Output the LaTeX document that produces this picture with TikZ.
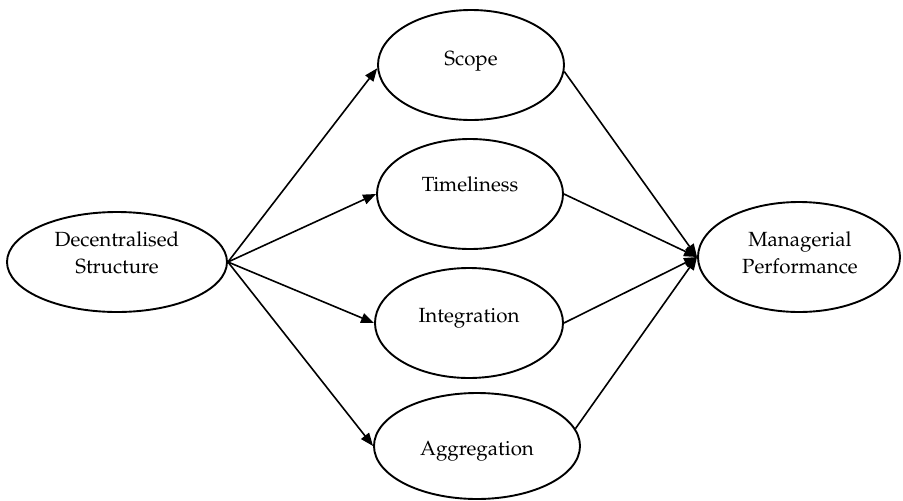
\documentclass[tikz,border=0pt]{standalone}
\usepackage[T1]{fontenc}
\usepackage{mathpazo}
\usetikzlibrary{arrows.meta,shapes.geometric}
\begin{document}
\begin{tikzpicture}[x=1pt,y=-1pt,
  oval/.style={draw=black,line width=1.9pt,ellipse,inner sep=0pt},
  lbl/.style={inner sep=0pt,font=\fontsize{20.5}{27}\selectfont,anchor=base,align=center},
  arr/.style={line width=1.6pt,-{Triangle[length=13pt,width=10pt]}}]
\useasboundingbox (0,0) rectangle (903,501);
% ellipses
\node[oval,minimum width=220pt,minimum height=100pt] (d) at (117,262) {};
\node[oval,minimum width=186pt,minimum height=110pt] (s) at (471,65) {};
\node[oval,minimum width=186pt,minimum height=110pt] (t) at (470,194) {};
\node[oval,minimum width=188pt,minimum height=110pt] (i) at (469,323) {};
\node[oval,minimum width=206pt,minimum height=106pt] (a) at (477,446) {};
\node[oval,minimum width=202pt,minimum height=110pt] (m) at (799,257) {};
% labels
\node[lbl] (dl) at (117,273) {Decentralised\\Structure};
\node[lbl] (sl) at (471,65) {Scope};
\node[lbl] (tl) at (470,191) {Timeliness};
\node[lbl] (il) at (469,322) {Integration};
\node[lbl] (al) at (477,455) {Aggregation};
\node[lbl] (ml) at (800,273) {Managerial\\Performance};
% arrows
\draw[arr] (d.east) -- (s.182);
\draw[arr] (d.east) -- (t.west);
\draw[arr] (d.east) -- (i.west);
\draw[arr] (d.east) -- (a.west);
\draw[arr] (s.-4) -- (m.west);
\draw[arr] (t.east) -- (m.west);
\draw[arr] (i.east) -- (m.west);
\draw[arr] (a.10) -- (m.west);
\end{tikzpicture}
\end{document}
